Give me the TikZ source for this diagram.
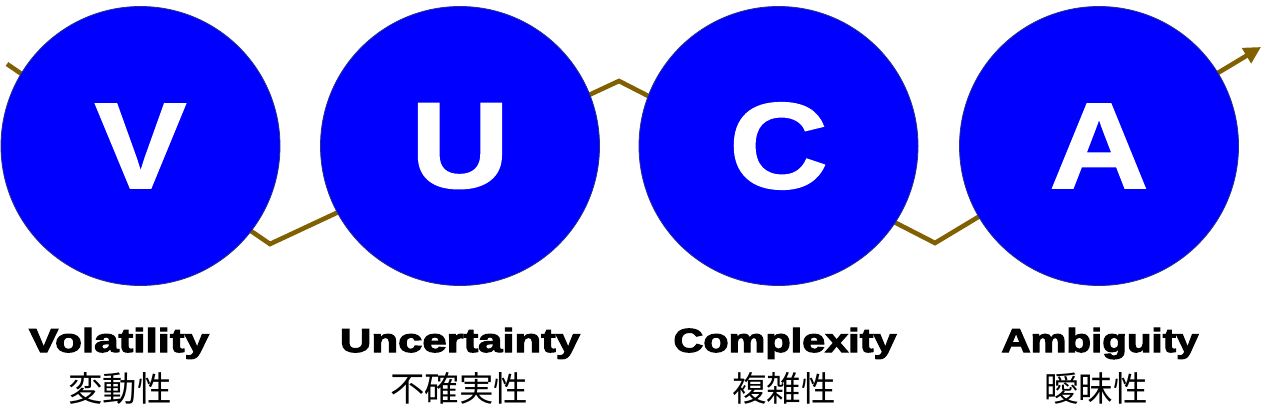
\documentclass[tikz,border=0pt]{standalone}
\usepackage{fontspec}
\usepackage{graphicx}
\usetikzlibrary{arrows.meta}
\newfontfamily\heavyfont[UprightFont={* Bold},FakeBold=1.5]{Liberation Sans}
\newfontfamily\blackfont[UprightFont={* Bold},FakeBold=3]{Liberation Sans}
\newfontfamily\jpfont{Noto Sans CJK JP}
\definecolor{vblue}{RGB}{0,0,255}
\definecolor{vedge}{RGB}{40,50,140}
\definecolor{zig}{RGB}{128,96,0}
\tikzset{
  bubble/.style={circle, fill=vblue, draw=vedge, line width=0.8pt, minimum size=279pt, inner sep=0pt,
    text=white, font=\heavyfont\fontsize{122}{122}\selectfont},
  zigline/.style={draw=zig, line width=4.6pt, -{Triangle[length=17pt,width=17pt]}},
  enlabel/.style={anchor=base, inner sep=0pt, font=\blackfont\fontsize{33.4}{34}\selectfont},
  jplabel/.style={anchor=base, inner sep=0pt, font=\jpfont\fontsize{34.5}{35}\selectfont},
}
\newcommand{\fitwd}[2]{\resizebox{#1pt}{\height}{#2}}
\begin{document}
\begin{tikzpicture}[x=1pt,y=-1pt]
\useasboundingbox (0,0) rectangle (1266,409);
\coordinate (p0) at (7,64);
\coordinate (p1) at (270,244);
\coordinate (p2) at (619,81);
\coordinate (p3) at (935,243);
\coordinate (p4) at (1261,47);
\draw[zigline] (p0) -- (p1) -- (p2) -- (p3) -- (p4);
\node[bubble] (V) at (140.5,146) {\scalebox{1.12}[1]{V}};
\node[bubble] (U) at (460,146) {\scalebox{1.12}[1]{U}};
\node[bubble] (C) at (778.5,146) {\scalebox{1.12}[1]{C}};
\node[bubble] (A) at (1099,146) {\scalebox{1.12}[1]{A}};
\node[enlabel] (lV) at (119,352) {\fitwd{180}{Volatility}};
\node[enlabel] (lU) at (460,352) {\fitwd{240}{Uncertainty}};
\node[enlabel] (lC) at (785,352) {\fitwd{223}{Complexity}};
\node[enlabel] (lA) at (1100,352) {\fitwd{197}{Ambiguity}};
\node[jplabel] (jV) at (120,401) {変動性};
\node[jplabel] (jU) at (459,401) {不確実性};
\node[jplabel] (jC) at (784,401) {複雑性};
\node[jplabel] (jA) at (1096,401) {曖昧性};
\end{tikzpicture}
\end{document}
